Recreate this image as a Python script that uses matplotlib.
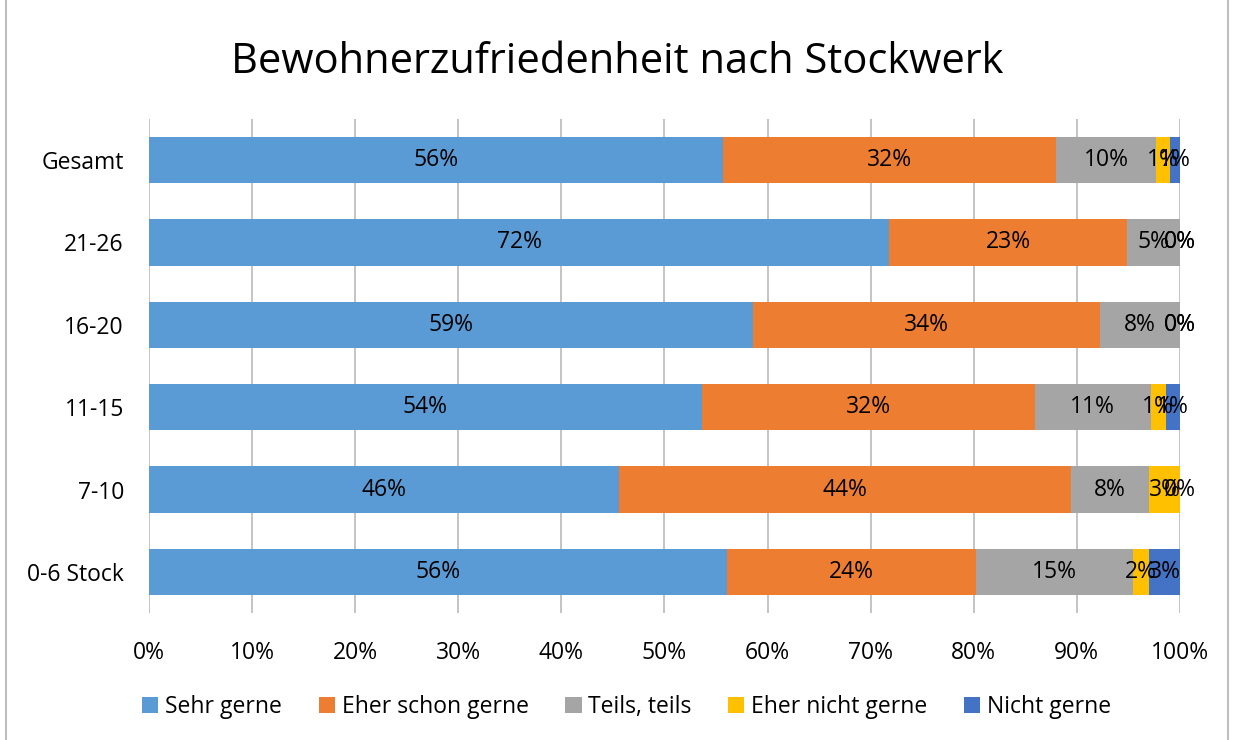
import matplotlib.pyplot as plt
import numpy as np

plt.rcParams['font.family'] = ['Open Sans', 'DejaVu Sans']

categories = ["0-6 Stock", "7-10", "11-15", "16-20", "21-26", "Gesamt"]
series = ["Sehr gerne", "Eher schon gerne", "Teils, teils", "Eher nicht gerne", "Nicht gerne"]
colors = ["#5B9BD5", "#ED7D31", "#A5A5A5", "#FFC000", "#4472C4"]

# percent values, bottom row first
sehr_gerne = [56.1, 45.6, 53.6, 58.6, 71.8, 55.7]
eher_schon = [24.1, 43.8, 32.3, 33.6, 23.1, 32.3]
teils = [15.2, 7.6, 11.3, 7.8, 5.1, 9.7]
eher_nicht = [1.6, 3.0, 1.4, 0.0, 0.0, 1.3]
nicht_gerne = [3.0, 0.0, 1.4, 0.0, 0.0, 1.0]

values = np.array([sehr_gerne, eher_schon, teils, eher_nicht, nicht_gerne])

fig = plt.figure(figsize=(12.34, 7.4), dpi=100)
ax = fig.add_axes([0.1207, 0.1716, 0.8355, 0.6676])

y = np.arange(len(categories))
left = np.zeros(len(categories))
for vals, name, c in zip(values, series, colors):
    ax.barh(y, vals, left=left, height=0.56, color=c, label=name, zorder=2)
    for yi, l, v in zip(y, left, vals):
        ax.text(l + v / 2, yi, '%d%%' % round(v), ha='center', va='center',
                fontsize=16.5, color='black', zorder=3)
    left += vals

ax.set_xlim(0, 100)
ax.set_ylim(-0.5, 5.5)
ax.set_xticks(np.arange(0, 101, 10))
ax.set_xticklabels(['%d%%' % t for t in range(0, 101, 10)], fontsize=16.5)
ax.set_yticks(y)
ax.set_yticklabels(categories, fontsize=16.5)
ax.tick_params(length=0, pad=20)
ax.tick_params(axis='y', pad=18)
ax.grid(axis='x', color='#BFBFBF', linewidth=1.3, zorder=0)
for s in ax.spines.values():
    s.set_visible(False)

fig.suptitle('Bewohnerzufriedenheit nach Stockwerk', fontsize=30, y=0.945)

fig.legend(loc='center', bbox_to_anchor=(0.508, 0.044), ncol=5, frameon=False,
           fontsize=16.5, handlelength=0.7, handleheight=0.7, handletextpad=0.3,
           columnspacing=1.6)

fig.patches.append(plt.Rectangle((0.005, -0.01), 0.99, 1.02, transform=fig.transFigure,
                                 fill=False, edgecolor='#BFBFBF', linewidth=1.5))

plt.savefig('out.png', dpi=100)
